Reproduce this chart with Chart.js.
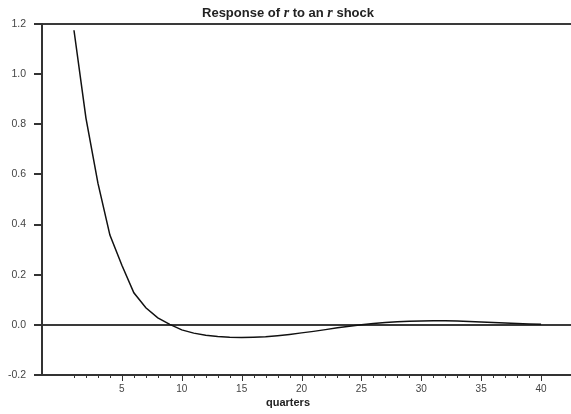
<!DOCTYPE html>
<html>
<head>
<meta charset="utf-8">
<script src="https://cdn.jsdelivr.net/npm/chart.js@4.4.1/dist/chart.umd.min.js"></script>
<style>
  html, body { margin: 0; padding: 0; background: #fff; }
  #wrap { width: 571px; height: 414px; }
</style>
</head>
<body>
<div id="wrap"><canvas id="irf" width="571" height="414"></canvas></div>
<script>
// impulse response of r to its own shock, by quarter
var quarters = [1, 2, 3, 4, 5, 6, 7, 8, 9, 10, 11, 12, 13, 14, 15, 16, 17, 18, 19, 20,
                21, 22, 23, 24, 25, 26, 27, 28, 29, 30, 31, 32, 33, 34, 35, 36, 37, 38, 39, 40];
var response = [1.175, 0.825, 0.565, 0.358, 0.238, 0.128, 0.068, 0.028, 0.002, -0.020,
                -0.033, -0.041, -0.046, -0.049, -0.050, -0.049, -0.047, -0.043, -0.038, -0.032,
                -0.026, -0.019, -0.012, -0.006, 0.000, 0.005, 0.009, 0.012, 0.014, 0.015,
                0.016, 0.016, 0.015, 0.013, 0.011, 0.009, 0.007, 0.005, 0.003, 0.002];
var yTicks = [-0.2, 0.0, 0.2, 0.4, 0.6, 0.8, 1.0, 1.2];

var points = quarters.map(function(q, i) {
    return { x: q, y: response[i] };
});

var axisColor = '#333';
var labelFont = { family: 'Liberation Sans, Arial, sans-serif', size: 10 };

// title with italic r, axis name and the x tick marks
var decorations = {
    id: 'decorations',
    afterDraw: function(chart) {
        var ctx = chart.ctx;
        var area = chart.chartArea;
        var xs = chart.scales.x;

        ctx.save();
        ctx.strokeStyle = axisColor;
        ctx.lineWidth = 1;
        quarters.forEach(function(q) {
            var px = Math.round(xs.getPixelForValue(q)) + 0.5;
            var len = (q % 5 === 0) ? 6 : 3;
            ctx.beginPath();
            ctx.moveTo(px, area.bottom);
            ctx.lineTo(px, area.bottom + len);
            ctx.stroke();
        });

        var sans = 'bold 13px Liberation Sans, Arial, sans-serif';
        var serif = 'italic bold 14px Liberation Serif, Times New Roman, serif';
        var parts = [
            { t: 'Response of ', f: sans },
            { t: 'r', f: serif },
            { t: ' to an ', f: sans },
            { t: 'r', f: serif },
            { t: ' shock', f: sans }
        ];
        var total = 0;
        parts.forEach(function(p) {
            ctx.font = p.f;
            p.w = ctx.measureText(p.t).width;
            total += p.w;
        });
        var x = 288 - total / 2;
        ctx.fillStyle = '#222';
        ctx.textBaseline = 'alphabetic';
        ctx.textAlign = 'left';
        parts.forEach(function(p) {
            ctx.font = p.f;
            ctx.fillText(p.t, x, 17);
            x += p.w;
        });

        ctx.font = 'bold 11px Liberation Sans, Arial, sans-serif';
        ctx.textAlign = 'center';
        ctx.fillText('quarters', 288, 406);
        ctx.restore();
    }
};

new Chart(document.getElementById('irf'), {
    type: 'line',
    data: {
        datasets: [{
            data: points,
            borderColor: '#111',
            borderWidth: 1.5,
            pointRadius: 0,
            fill: false,
            tension: 0
        }]
    },
    options: {
        responsive: false,
        animation: false,
        layout: { padding: { top: 24, right: 0, left: 0, bottom: 0 } },
        plugins: {
            legend: { display: false },
            tooltip: { enabled: false }
        },
        scales: {
            x: {
                type: 'linear',
                min: -1.67,
                max: 42.5,
                afterBuildTicks: function(scale) {
                    scale.ticks = quarters.map(function(q) { return { value: q }; });
                },
                afterFit: function(scale) { scale.height = 39; },
                grid: { display: false },
                border: { display: true, color: axisColor, width: 2 },
                ticks: {
                    autoSkip: false,
                    maxRotation: 0,
                    padding: 0,
                    color: '#444',
                    font: labelFont,
                    callback: function(v) { return v % 5 === 0 ? String(v) : ''; }
                }
            },
            y: {
                min: -0.2,
                max: 1.2,
                afterBuildTicks: function(scale) {
                    scale.ticks = yTicks.map(function(v) { return { value: v }; });
                },
                afterFit: function(scale) { scale.width = 42; },
                grid: {
                    drawOnChartArea: true,
                    tickLength: 8,
                    tickColor: axisColor,
                    lineWidth: 2,
                    color: function(c) {
                        var v = c.tick ? c.tick.value : null;
                        if (v === null) return 'rgba(0,0,0,0)';
                        return (Math.abs(v) < 1e-9 || Math.abs(v - 1.2) < 1e-9) ? '#3a3a3a' : 'rgba(0,0,0,0)';
                    }
                },
                border: { display: true, color: axisColor, width: 2 },
                ticks: {
                    padding: 8,
                    color: '#444',
                    font: { family: 'Liberation Sans, Arial, sans-serif', size: 10.5 },
                    callback: function(v) { return Number(v).toFixed(1); }
                }
            }
        }
    },
    plugins: [decorations]
});
</script>
</body>
</html>
